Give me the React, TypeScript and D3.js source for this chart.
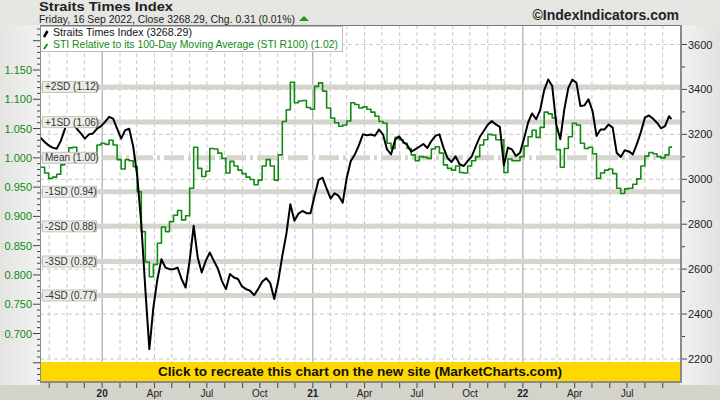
import React from "react";
import * as d3 from "d3";

const TITLE = "Straits Times Index";
const SUBTITLE = "Friday, 16 Sep 2022, Close 3268.29, Chg. 0.31 (0.01%)";
const COPYRIGHT = "©IndexIndicators.com";
const BANNER = "Click to recreate this chart on the new site (MarketCharts.com)";
const LEGEND = ["Straits Times Index (3268.29)", "STI Relative to its 100-Day Moving Average (STI R100) (1.02)"];

const START_DATE = "2019-09-16";
const LAST_DATE = "2022-09-16";
const X_DOMAIN = ["2019-09-15", "2022-10-01"];

// Weekly samples (last one is the final close)
const STI = [
  3185, 3166, 3151, 3141, 3136, 3170, 3222, 3274, 3252, 3225,
  3204, 3181, 3200, 3204, 3225, 3237, 3255, 3278, 3270, 3225,
  3181, 3219, 3225, 3145, 3015, 2800, 2511, 2244, 2430, 2556,
  2644, 2607, 2600, 2600, 2607, 2556, 2518, 2637, 2793, 2652,
  2585, 2637, 2674, 2637, 2603, 2548, 2511, 2578, 2563, 2556,
  2523, 2511, 2504, 2484, 2511,
  2544, 2560, 2538, 2467, 2548, 2659, 2756, 2889, 2815, 2847,
  2859, 2849, 2849, 2926, 2997, 3007, 2958, 2914, 2938, 2926,
  2896, 3007, 3081, 3110, 3151, 3200, 3196, 3199, 3194, 3221,
  3199, 3133, 3111, 3176, 3191, 3167, 3153, 3123, 3133, 3145,
  3157, 3139, 3170, 3193, 3200, 3141, 3095, 3077, 3102, 3067,
  3059, 3081, 3101, 3145,
  3188, 3215, 3243, 3259, 3244, 3233, 3062, 3141, 3133, 3104,
  3118, 3181, 3252, 3293, 3267, 3308, 3397, 3444, 3415, 3244,
  3178, 3311, 3407, 3444, 3430, 3326, 3329, 3356, 3304, 3193,
  3222, 3222, 3244, 3230, 3118, 3099, 3129, 3124, 3111, 3156,
  3210, 3274, 3284, 3270, 3252, 3227, 3237, 3281,
  3268.29,
];

const R100 = [
  0.984, 0.974, 0.965, 0.967, 0.972, 0.988, 0.997, 1.017, 1.018, 1.002,
  0.997, 0.997, 0.994, 1.008, 1.022, 1.025, 1.023, 1.030, 1.022, 0.997,
  0.981, 0.997, 0.995, 0.985, 0.942, 0.874, 0.822, 0.797, 0.818, 0.854,
  0.882, 0.874, 0.891, 0.902, 0.910, 0.894, 0.901, 0.948, 1.018, 0.982,
  0.968, 0.977, 1.016, 1.015, 1.008, 0.999, 0.974, 0.994, 0.986, 0.979,
  0.973, 0.967, 0.963, 0.954, 0.962,
  0.986, 0.997, 0.986, 0.962, 1.005, 1.062, 1.082, 1.129, 1.094, 1.097,
  1.098, 1.086, 1.083, 1.122, 1.128, 1.114, 1.085, 1.068, 1.060, 1.054,
  1.056, 1.063, 1.094, 1.091, 1.085, 1.087, 1.083, 1.078, 1.071, 1.062,
  1.059, 1.025, 1.016, 1.035, 1.031, 1.025, 1.016, 1.005, 0.995, 1.002,
  1.001, 0.999, 1.015, 1.019, 1.008, 0.988, 0.982, 0.979, 0.986, 0.975,
  0.974, 0.986, 0.995, 1.002,
  1.022, 1.031, 1.040, 1.039, 1.031, 1.031, 0.975, 0.998, 0.995, 0.995,
  1.002, 1.020, 1.036, 1.047, 1.035, 1.052, 1.078, 1.075, 1.068, 1.014,
  0.984, 1.016, 1.036, 1.059, 1.056, 1.025, 1.016, 1.018, 1.007, 0.965,
  0.974, 0.979, 0.981, 0.973, 0.948, 0.939, 0.947, 0.948, 0.955, 0.964,
  0.986, 1.003, 1.009, 1.007, 1.002, 1.000, 1.005, 1.018,
  1.020,
];

const RIGHT_TICKS = [2200, 2400, 2600, 2800, 3000, 3200, 3400, 3600];
const LEFT_TICKS = [0.7, 0.75, 0.8, 0.85, 0.9, 0.95, 1.0, 1.05, 1.1, 1.15];
const BAND_LEVELS = [1.121, 1.061, 1.0, 0.942, 0.883, 0.823, 0.765];
const BAND_LABELS = ["+2SD (1.12)", "+1SD (1.06)", "Mean (1.00)", "-1SD (0.94)", "-2SD (0.88)", "-3SD (0.82)", "-4SD (0.77)"];

const FONT = "'Liberation Sans', Arial, sans-serif";
const GREEN = "#128a12";

export default function App() {
  const W = 720, H = 400;
  const L = 40, R = 680, T = 25, B = 381;
  const parse = d3.timeParse("%Y-%m-%d");
  const x = d3.scaleTime().domain(X_DOMAIN.map((s) => parse(s)!)).range([L, R]);
  const yR = d3.scaleLinear().domain([2200, 3600]).range([359, 44.5]);
  const yL = d3.scaleLinear().domain([0.7, 1.15]).range([333.5, 70]);
  const start = parse(START_DATE)!;
  const dates = STI.map((_, i) => (i === STI.length - 1 ? parse(LAST_DATE)! : d3.timeDay.offset(start, 7 * i)));

  const stiPath = d3.line<number>().x((_, i) => x(dates[i])).y((d) => yR(d))(STI) || "";
  const rPath = d3.line<number>().curve(d3.curveStepAfter).x((_, i) => x(dates[i])).y((d) => yL(d))(R100) || "";

  const months = d3.timeMonth.range(d3.timeMonth.ceil(x.domain()[0]), x.domain()[1]);
  const firstLabelDate = parse("2020-01-01")!;
  const leftMinor = d3.range(62, 123).map((v) => v / 100);
  const rightMinor = d3.range(2200, 3601, 100);
  const fmtMonth = (d: Date) => (d.getMonth() === 0 ? d3.timeFormat("%y")(d) : d3.timeFormat("%b")(d));

  return (
    <svg width={W} height={H} style={{ position: "absolute", left: 0, top: 0, display: "block" }} fontFamily={FONT}>
      <defs>
        <linearGradient id="bg" x1="0" y1="0" x2="0" y2="1">
          <stop offset="0" stopColor="#e6e6e2" />
          <stop offset="1" stopColor="#d3d3cb" />
        </linearGradient>
        <linearGradient id="lp" x1="0" y1="0" x2="1" y2="0">
          <stop offset="0" stopColor="#e4e4e2" />
          <stop offset="1" stopColor="#f2f2f2" />
        </linearGradient>
        <linearGradient id="rp" x1="0" y1="0" x2="1" y2="0">
          <stop offset="0" stopColor="#f2f2f2" />
          <stop offset="1" stopColor="#e2e2e0" />
        </linearGradient>
        <clipPath id="plotclip">
          <rect x={L} y={T} width={R - L} height={B - T} />
        </clipPath>
      </defs>
      <rect x={0} y={0} width={W} height={H} fill="url(#bg)" />
      <rect x={0} y={T} width={L} height={B - T + 4} fill="url(#lp)" />
      <rect x={R} y={T} width={W - R} height={B - T + 4} fill="url(#rp)" />

      {/* title */}
      <text x={39} y={11} fontSize={13} fontWeight="bold" fill="#222" textLength={134} lengthAdjust="spacingAndGlyphs">{TITLE}</text>
      <text x={39} y={23} fontSize={10.5} fill="#222" textLength={256} lengthAdjust="spacingAndGlyphs">{SUBTITLE}</text>
      <path d="M299,21 L309,21 L304,16 Z" fill="#1a9a1a" />
      <text x={679} y={20} fontSize={14} fontWeight="bold" fill="#222" textAnchor="end">{COPYRIGHT}</text>

      {/* plot area */}
      <rect x={L} y={T} width={R - L} height={B - T} fill="#ffffff" />
      <g clipPath="url(#plotclip)">
        {RIGHT_TICKS.map((v) => (
          <line key={"h" + v} x1={L} x2={R} y1={yR(v)} y2={yR(v)} stroke="#c8c8c8" strokeDasharray="4,3" />
        ))}
        {months.map((d) => (
          <line key={"v" + d.getTime()} x1={x(d)} x2={x(d)} y1={T} y2={B}
            stroke={d.getMonth() === 0 ? "#9a9a9a" : "#c8c8c8"} strokeWidth={1}
            strokeDasharray={d.getMonth() === 0 ? undefined : "4,3"} />
        ))}
        {BAND_LEVELS.map((v, i) => (
          <line key={"b" + i} x1={L} x2={R} y1={yL(v)} y2={yL(v)} stroke="#d5d5cd" strokeWidth={5}
            strokeDasharray={BAND_LABELS[i].startsWith("Mean") ? "20,4,3,4" : undefined} />
        ))}
        <path d={rPath} fill="none" stroke={GREEN} strokeWidth={1.6} strokeLinejoin="round" />
        <path d={stiPath} fill="none" stroke="#000" strokeWidth={2} strokeLinejoin="round" />
        {BAND_LEVELS.map((v, i) => (
          <g key={"bl" + i}>
            <rect x={42.5} y={yL(v) - 5.5} width={54} height={11} fill="#ecece6" stroke="#c4c4bc" strokeWidth={1} />
            <text x={45} y={yL(v) + 3.5} fontSize={10} fill="#333">{BAND_LABELS[i]}</text>
          </g>
        ))}
      </g>

      {/* legend */}
      <rect x={40.5} y={26.5} width={302} height={25} fill="#fff" stroke="#bbbbbb" />
      <line x1={44} y1={37} x2={47.5} y2={31} stroke="#000" strokeWidth={2.5} />
      <text x={53} y={36} fontSize={11} fill="#111" textLength={139} lengthAdjust="spacingAndGlyphs">{LEGEND[0]}</text>
      <line x1={44} y1={49} x2={47.5} y2={44} stroke={GREEN} strokeWidth={1.8} />
      <text x={53} y={48} fontSize={11} fill={GREEN} textLength={285} lengthAdjust="spacingAndGlyphs">{LEGEND[1]}</text>

      {/* banner */}
      <rect x={L} y={362} width={R - L} height={B - 362} fill="#ffd800" />
      <text x={(L + R) / 2} y={376} fontSize={13} fontWeight="bold" fill="#111" textAnchor="middle"
        textLength={404} lengthAdjust="spacingAndGlyphs">{BANNER}</text>

      {/* frame */}
      <line x1={L + 0.5} x2={L + 0.5} y1={T} y2={B} stroke="#8a8a8a" />
      <line x1={L} x2={R} y1={T + 0.5} y2={T + 0.5} stroke="#777" />
      <line x1={R + 1} x2={R + 1} y1={T} y2={B + 2} stroke="#8a8a8a" strokeWidth={2} />
      <line x1={L} x2={R + 2} y1={B + 1} y2={B + 1} stroke="#8a8a8a" strokeWidth={2} />

      {/* bottom axis */}
      {months.map((d) => (
        <line key={"t" + d.getTime()} x1={x(d)} x2={x(d)} y1={B + 2} y2={B + 7} stroke="#444" />
      ))}
      {months.filter((d) => d.getMonth() % 3 === 0 && d >= firstLabelDate).map((d) => (
        <text key={"l" + d.getTime()} x={x(d)} y={397} fontSize={10} textAnchor="middle" fill="#222"
          fontWeight={d.getMonth() === 0 ? "bold" : "normal"}>{fmtMonth(d)}</text>
      ))}

      {/* right axis */}
      {rightMinor.map((v) => (
        <line key={"rm" + v} x1={R + 2} x2={v % 200 === 0 ? R + 7 : R + 5} y1={yR(v)} y2={yR(v)} stroke="#444" />
      ))}
      {RIGHT_TICKS.map((v) => (
        <text key={"rl" + v} x={R + 8} y={yR(v) + 4} fontSize={11} fill="#222">{v}</text>
      ))}

      {/* left axis */}
      {leftMinor.map((v) => (
        <line key={"lm" + v} x1={Math.round(v * 100) % 5 === 0 ? L - 7 : L - 3} x2={L} y1={yL(v)} y2={yL(v)} stroke="#444" />
      ))}
      {LEFT_TICKS.map((v) => (
        <text key={"ll" + v} x={L - 8} y={yL(v) + 4} fontSize={11} fill={GREEN} textAnchor="end">{v.toFixed(3)}</text>
      ))}
    </svg>
  );
}
